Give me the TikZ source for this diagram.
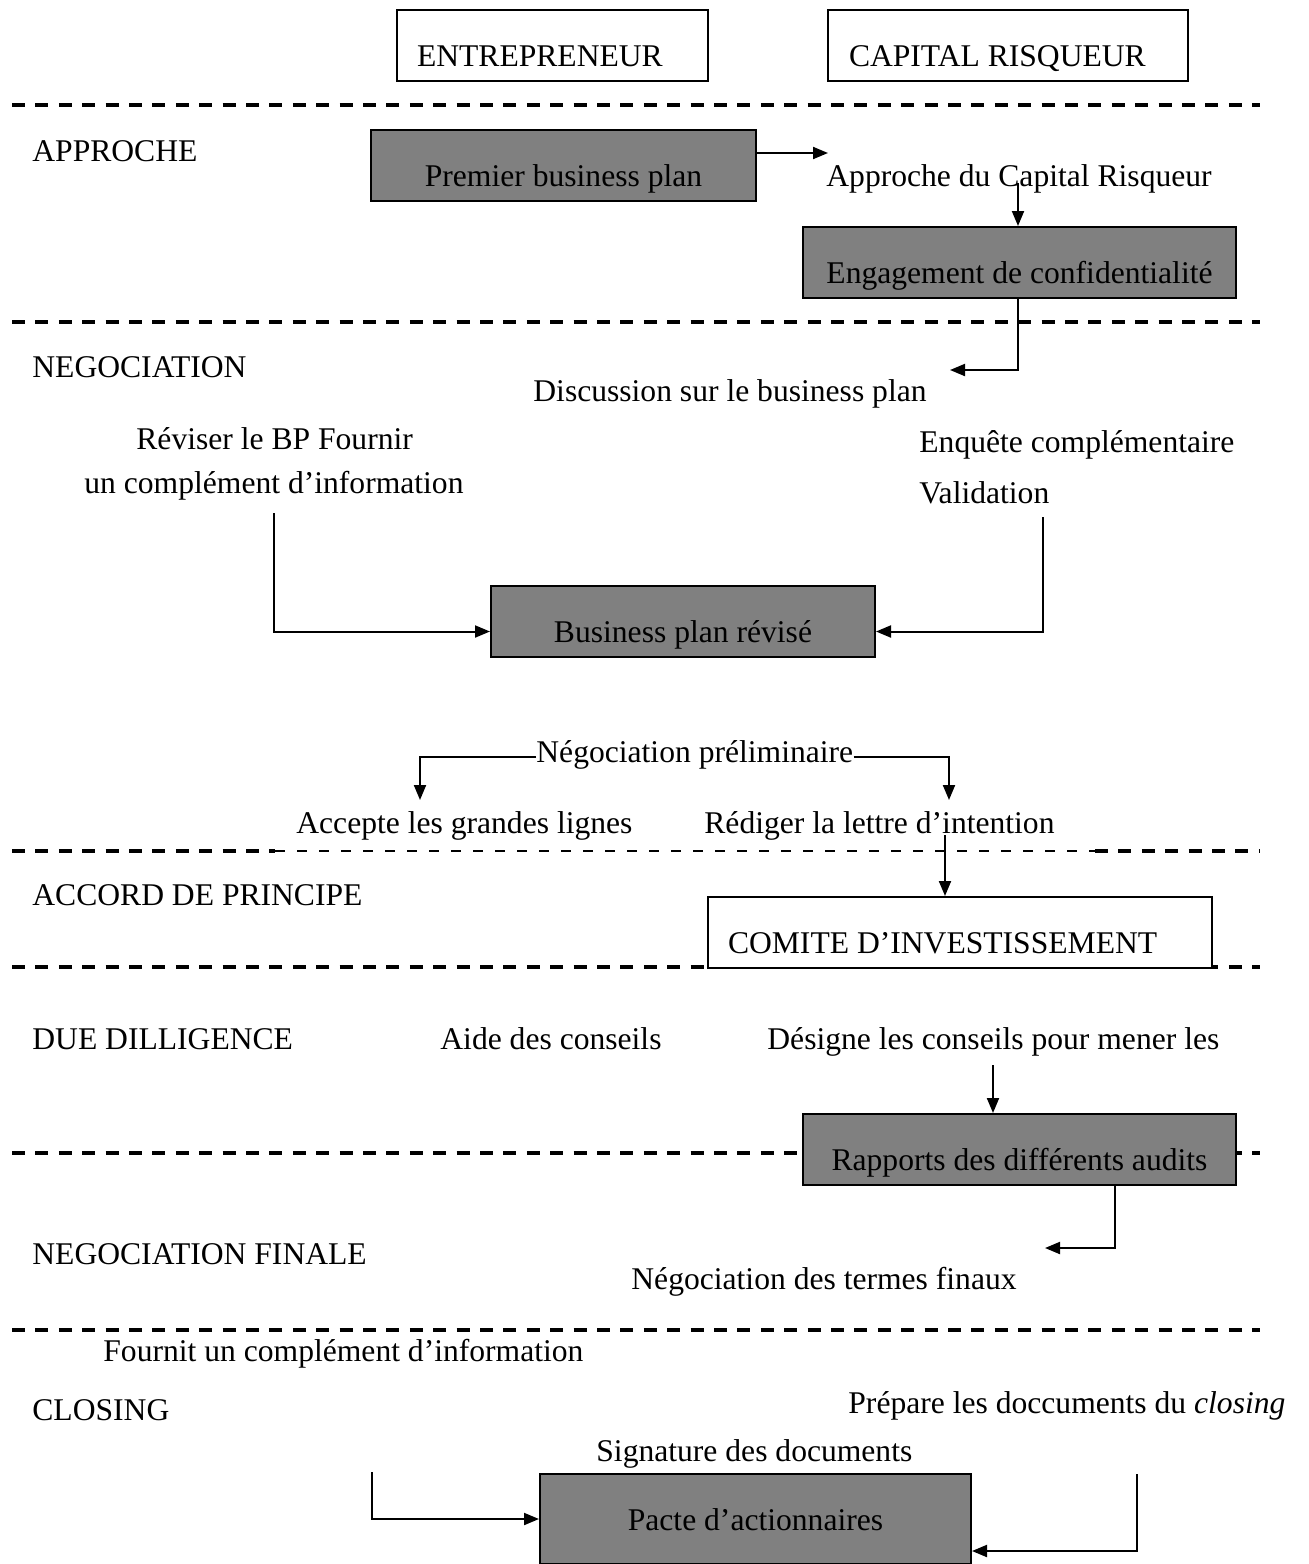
\documentclass[tikz,border=0pt]{standalone}
\usepackage{fontspec}
\setmainfont{Liberation Serif}
\usetikzlibrary{arrows.meta}
\definecolor{boxgrey}{RGB}{128,128,128}
\tikzstyle{greybox} = [draw=black, line width=1pt, fill=boxgrey, inner sep=0pt, text height=28pt, text depth=7.5pt, anchor=base]
\tikzstyle{whitebox} = [draw=black, line width=1pt, fill=white, inner ysep=0pt, inner xsep=10pt, text height=28pt, text depth=7.5pt, align=flush left, anchor=base west]
\tikzstyle{lbl} = [inner sep=0pt, text height=0.7em, text depth=0.2em, anchor=base west]
\tikzstyle{arrow} = [line width=1pt, -{Triangle[length=7.5pt,width=6pt]}]
\tikzstyle{line} = [line width=1pt, -]
\tikzstyle{phase} = [line width=1.8pt, dash pattern=on 6.5pt off 5.2pt]

\begin{document}
\begin{tikzpicture}[x=0.5pt, y=-0.5pt, font=\fontsize{15.8pt}{19pt}\selectfont]
        \useasboundingbox (0,0) rectangle (1308,1564);
        % the two actors
        \node (entr) [whitebox, text width=135.5pt] at (396,66) {ENTREPRENEUR};
        \node (capr) [whitebox, text width=159pt, inner xsep=10.5pt] at (827,66) {CAPITAL RISQUEUR};

        % phase separators
        \draw [phase] (12,105) -- (1260,105);
        \draw [phase] (12,322) -- (1260,322);
        \draw [phase] (12,851) -- (275,851);
        \draw [line width=0.6pt, dash pattern=on 5pt off 6pt] (275,851) -- (1095,851);
        \draw [phase] (1095,851) -- (1260,851);
        \draw [phase] (12,967) -- (1260,967);
        \draw [phase] (12,1153) -- (1260,1153);
        \draw [phase] (12,1330) -- (1260,1330);

        % phase names
        \node (pA) [lbl] at (32,161) {APPROCHE};
        \node (pN) [lbl] at (32,377) {NEGOCIATION};
        \node (pP) [lbl] at (32,905) {ACCORD DE PRINCIPE};
        \node (pD) [lbl] at (32,1049) {DUE DILLIGENCE};
        \node (pF) [lbl] at (32,1264) {NEGOCIATION FINALE};
        \node (pC) [lbl] at (32,1420) {CLOSING};

        % approche
        \node (prem) [greybox, minimum width=192.5pt] at (563.5,186) {Premier business plan};
        \node (apcr) [lbl] at (826,186) {Approche du Capital Risqueur};
        \node (engc) [greybox, minimum width=216.5pt] at (1019.5,283) {Engagement de confidentialité};

        % negociation
        \node (disc) [lbl] at (533,401) {Discussion sur le business plan};
        \node (revA) [lbl] at (136,449) {Réviser le BP Fournir};
        \node (revB) [lbl] at (84,493) {un complément d’information};
        \node (enqA) [lbl] at (919,452) {Enquête complémentaire};
        \node (enqB) [lbl] at (919,503) {Validation};
        \node (bprv) [greybox, minimum width=192pt] at (683,642) {Business plan révisé};
        \node (negp) [lbl] at (536,762) {Négociation préliminaire};
        \node (acpt) [lbl] at (296,833) {Accepte les grandes lignes};
        \node (redi) [lbl] at (704,833) {Rédiger la lettre d’intention};

        % accord de principe
        \node (comi) [whitebox, text width=232pt] at (707,953) {COMITE D’INVESTISSEMENT};

        % due diligence
        \node (aide) [lbl] at (440,1049) {Aide des conseils};
        \node (desi) [lbl] at (767,1049) {Désigne les conseils pour mener les};
        \node (rapp) [greybox, minimum width=216.5pt] at (1019.5,1170) {Rapports des différents audits};

        % negociation finale
        \node (term) [lbl] at (631,1289) {Négociation des termes finaux};

        % closing
        \node (four) [lbl] at (103,1361) {Fournit un complément d’information};
        \node (prep) [lbl] at (848,1413) {Prépare les doccuments du \textit{closing}};
        \node (sign) [lbl] at (596,1461) {Signature des documents};
        \node (pact) [greybox, minimum width=215.5pt, text depth=17pt] at (755.5,1530) {Pacte d’actionnaires};

        % free ends of the connectors
        \coordinate (tA) at (828,153);
        \coordinate (sB) at (1018,183);
        \coordinate (tC) at (950,370);
        \coordinate (sD) at (274,513);
        \coordinate (sE) at (1043,517);
        \coordinate (tF) at (420,800);
        \coordinate (tG) at (949,800);
        \coordinate (sH) at (945,835);
        \coordinate (sI) at (993,1065);
        \coordinate (sJ) at (1115,1186);
        \coordinate (tJ) at (1045,1248);
        \coordinate (sK) at (372,1472);
        \coordinate (sL) at (1137,1474);

        \draw [arrow] (prem.east |- tA) -- (tA);
        \draw [arrow] (sB) -- (sB |- engc.north);
        \draw [arrow] (sB |- engc.south) |- (tC);
        \draw [arrow] (sD) |- ([yshift=-5pt]bprv.west);
        \draw [arrow] (sE) |- ([yshift=-5pt]bprv.east);
        \draw [arrow] (negp.west) -| (tF);
        \draw [arrow] (negp.east) -| (tG);
        \draw [arrow] (sH) -- (sH |- comi.north);
        \draw [arrow] (sI) -- (sI |- rapp.north);
        \draw [arrow] (sJ) |- (tJ);
        \draw [arrow] (sK) |- (pact.west);
        \draw [arrow] (sL) |- ([yshift=-16pt]pact.east);

    \end{tikzpicture}
\end{document}
